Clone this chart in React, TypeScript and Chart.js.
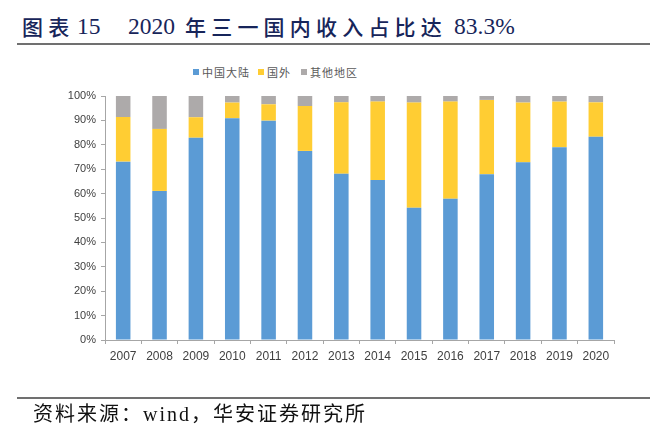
import React, { useEffect, useRef } from "react";
import { Chart, registerables } from "chart.js";

Chart.register(...registerables);

const years = ["2007", "2008", "2009", "2010", "2011", "2012", "2013", "2014", "2015", "2016", "2017", "2018", "2019", "2020"];
const mainland = [73.1, 61.1, 82.9, 90.9, 89.9, 77.5, 68.1, 65.6, 54.2, 57.9, 67.9, 72.8, 79.0, 83.3];
const overseas = [18.3, 25.4, 8.4, 6.4, 6.7, 18.4, 29.3, 32.1, 43.1, 39.8, 30.5, 24.5, 18.7, 14.1];
const others = [8.6, 13.5, 8.7, 2.7, 3.4, 4.1, 2.6, 2.3, 2.7, 2.3, 1.6, 2.7, 2.3, 2.6];
const seriesNames = ["中国大陆", "国外", "其他地区"];
const seriesColors = ["#5B9BD5", "#FFCD33", "#ADAAAA"];
const yTicks = [0, 10, 20, 30, 40, 50, 60, 70, 80, 90, 100];

// Title pieces: [text, isCJK]
const titleParts: [string, boolean][] = [
  ["图表", true],
  ["15", false],
  ["2020", false],
  ["年三一国内收入占比达", true],
  ["83.3%", false],
];
const sourceText = "资料来源：wind，华安证券研究所";

export default function App() {
  const ref = useRef<HTMLCanvasElement | null>(null);

  useEffect(() => {
    if (!ref.current) return;
    const series = [mainland, overseas, others];
    const chart = new Chart(ref.current, {
      type: "bar",
      data: {
        labels: years,
        datasets: series.map((d, i) => ({
          label: seriesNames[i],
          data: d,
          backgroundColor: seriesColors[i],
          borderWidth: 0,
          barPercentage: 0.4,
          categoryPercentage: 1,
        })),
      },
      options: {
        responsive: false,
        animation: false,
        devicePixelRatio: 1,
        layout: { padding: { left: 45, right: 36, top: 96, bottom: 65 } },
        plugins: {
          legend: { display: false },
          tooltip: { enabled: false },
        },
        scales: {
          x: {
            stacked: true,
            grid: {
              display: true,
              drawOnChartArea: false,
              drawTicks: true,
              tickLength: 4,
              color: "#A6A6A6",
              offset: true,
            },
            border: { color: "#A6A6A6", width: 1 },
            ticks: {
              color: "#404040",
              font: { family: "'Liberation Sans', Arial, sans-serif", size: 12 },
              padding: 5,
              maxRotation: 0,
              autoSkip: false,
            },
            afterFit: (s: any) => {
              s.height = 30;
            },
          },
          y: {
            stacked: true,
            min: 0,
            max: 100,
            afterBuildTicks: (s: any) => {
              s.ticks = yTicks.map((v) => ({ value: v }));
            },
            grid: {
              display: true,
              drawOnChartArea: false,
              drawTicks: true,
              tickLength: 4,
              color: "#A6A6A6",
            },
            border: { color: "#A6A6A6", width: 1 },
            ticks: {
              color: "#404040",
              font: { family: "'Liberation Sans', Arial, sans-serif", size: 11 },
              padding: 5,
              callback: (v: any) => `${v}%`,
            },
            afterFit: (s: any) => {
              s.width = 60;
            },
          },
        },
      },
    });
    return () => chart.destroy();
  }, []);

  const legendX = [193, 258, 301];
  const titleX = [22, 77, 128, 185, 454];

  return (
    <div
      style={{
        position: "fixed",
        left: 0,
        top: 0,
        width: 650,
        height: 435,
        background: "#fff",
        overflow: "hidden",
      }}
    >
      {titleParts.map(([t, cjk], i) => (
        <span
          key={t}
          style={{
            position: "absolute",
            left: titleX[i],
            top: 11,
            fontFamily: cjk ? "'Noto Sans CJK SC', sans-serif" : "'Liberation Serif', serif",
            fontSize: cjk ? 21 : 23.5,
            lineHeight: "30px",
            fontWeight: cjk ? 500 : 400,
            color: "#17255A",
            whiteSpace: "pre",
            letterSpacing: cjk ? 5.2 : 0,
          }}
        >
          {t}
        </span>
      ))}
      <div
        style={{
          position: "absolute",
          left: 17,
          top: 43,
          width: 633,
          height: 2,
          background: "#707070",
        }}
      />
      {seriesNames.map((n, i) => (
        <div
          key={n}
          style={{
            position: "absolute",
            left: legendX[i],
            top: 63,
            height: 18,
            display: "flex",
            alignItems: "center",
            fontFamily: "'Noto Sans CJK SC', sans-serif",
            fontSize: 11,
            color: "#595959",
            whiteSpace: "nowrap",
            letterSpacing: 1,
          }}
        >
          <span
            style={{
              display: "inline-block",
              width: 6,
              height: 6,
              background: seriesColors[i],
              marginRight: 3,
            }}
          />
          {n}
        </div>
      ))}
      <canvas
        ref={ref}
        width={650}
        height={435}
        style={{ position: "absolute", left: 0, top: 0, width: 650, height: 435 }}
      />
      <div
        style={{
          position: "absolute",
          left: 17,
          top: 397,
          width: 633,
          height: 2,
          background: "#707070",
        }}
      />
      <div
        style={{
          position: "absolute",
          left: 33,
          top: 401,
          fontFamily: "'Liberation Serif', 'Noto Sans CJK SC', serif",
          fontSize: 20,
          lineHeight: "26px",
          color: "#111",
          whiteSpace: "pre",
          letterSpacing: 2,
        }}
      >
        {sourceText}
      </div>
    </div>
  );
}
